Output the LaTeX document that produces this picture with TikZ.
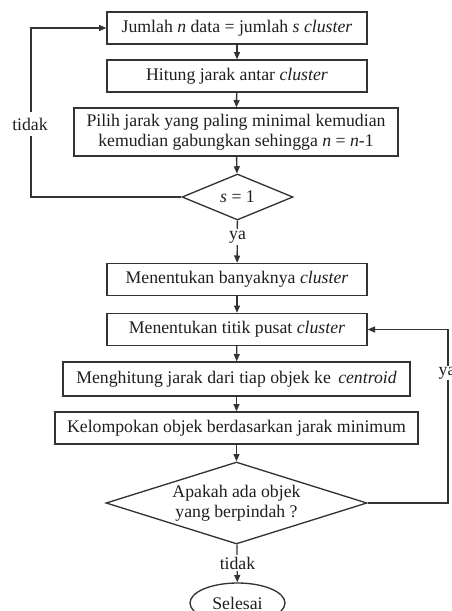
\documentclass[tikz,border=0pt]{standalone}
\usepackage{fontspec}
\setmainfont{Liberation Serif}
\usetikzlibrary{shapes.geometric,arrows.meta}
\definecolor{lc}{HTML}{333333}
\definecolor{tc}{HTML}{1E1E1E}
\begin{document}
\begin{tikzpicture}[x=0.75pt,y=-0.75pt,
  txt/.style={text=tc, font=\fontsize{13.3}{15}\selectfont},
  box/.style={txt, draw=lc, line width=1pt, minimum width=195pt, minimum height=24pt, inner sep=2pt, align=center},
  dec/.style={txt, diamond, draw=lc, line width=1pt, inner sep=0pt, align=center, shape aspect=3},
  arr/.style={draw=lc, line width=1pt, -{Triangle[length=5.5pt,width=4.5pt]}},
  lbl/.style={txt, fill=white, inner sep=1.5pt}]
\useasboundingbox (0,0) rectangle (451,611);
\node[box] (b1) at (237,28) {Jumlah \textit{n} data = jumlah \textit{s cluster}};
\node[box] (b2) at (237,76) {Hitung jarak antar \textit{cluster}};
\node[box, minimum width=243pt, minimum height=36pt] (b3) at (236,132) {Pilih jarak yang paling minimal kemudian\\kemudian gabungkan sehingga \textit{n} = \textit{n}-1};
\node[dec, minimum width=83.25pt, minimum height=34.5pt] (d1) at (237.5,197) {\textit{s} = 1};
\node[box] (b4) at (237,279.5) {Menentukan banyaknya \textit{cluster}};
\node[box] (b5) at (237,329.5) {Menentukan titik pusat \textit{cluster}};
\node[box, minimum width=260.25pt, minimum height=25.5pt] (b6) at (236.5,379) {Menghitung jarak dari tiap objek ke \,\textit{centroid}};
\node[box, minimum width=272.25pt] (b7) at (236.5,428) {Kelompokan objek berdasarkan jarak minimum};
\node[dec, minimum width=195.75pt, minimum height=61.5pt] (d2) at (236.5,503) {Apakah ada objek\\yang berpindah ?};
\node[txt, ellipse, draw=lc, line width=1pt, minimum width=71.25pt, minimum height=30pt, inner sep=0pt] (e) at (237.5,603) {Selesai};

\coordinate (lt) at (31,28);
\coordinate (rt) at (448,329.5);

\draw[arr] (b1) -- (b2);
\draw[arr] (b2) -- (b3);
\draw[arr] (b3) -- (d1);
\draw[arr] (d1) -- (b4);
\draw[arr] (b4) -- (b5);
\draw[arr] (b5) -- (b6);
\draw[arr] (b6) -- (b7);
\draw[arr] (b7) -- (d2);
\draw[arr] (d2) -- (e);
\draw[arr] (d1.west) -| (lt) -- (b1.west);
\draw[arr] (d2.east) -| (rt) -- (b5.east);

\node[lbl, inner ysep=4pt] (l1) at (30,124) {tidak};
\node[lbl] (l2) at (237.5,237) {ya};
\node[lbl] (l3) at (237.5,563) {tidak};
\node[txt, fill=white, inner sep=0.5pt] (l4) at (447,373) {ya};
\end{tikzpicture}
\end{document}
